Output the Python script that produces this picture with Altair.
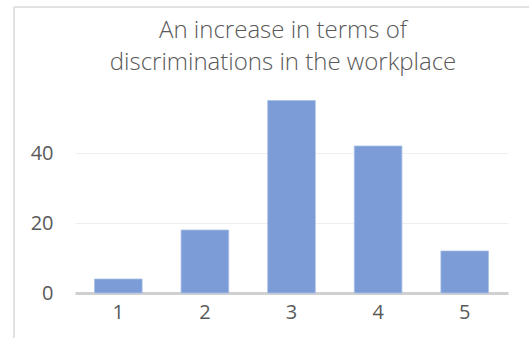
import altair as alt
import pandas as pd

categories = ["1", "2", "3", "4", "5"]
values = [4, 18, 55, 42, 12]
y_ticks = [0, 20, 40]
title_lines = ["An increase in terms of", "discriminations in the workplace"]

df = pd.DataFrame({"cat": categories, "val": values})
one = pd.DataFrame({"k": [0]})

FONT = "Open Sans"
GRAY = "#595959"

bars = alt.Chart(df).mark_bar(color="#7b9cd6", stroke="#a9bfe6", strokeWidth=0.8).encode(
    x=alt.X("cat:N", sort=categories, title=None,
            scale=alt.Scale(paddingInner=0.45, paddingOuter=0.225),
            axis=alt.Axis(labelAngle=0, labelFont=FONT, labelFontSize=20, labelColor=GRAY,
                          labelPadding=9, ticks=False, domainColor="#d0d0d0", domainWidth=3,
                          grid=False)),
    y=alt.Y("val:Q", title=None,
            scale=alt.Scale(domain=[0, 60], nice=False),
            axis=alt.Axis(values=y_ticks, labelFont=FONT, labelFontSize=20, labelColor=GRAY,
                          labelPadding=22, ticks=False, domain=False, gridColor="#efefef",
                          gridWidth=1)),
)

frame_left = alt.Chart(one).mark_rule(color="#d9d9d9", strokeWidth=1.5).encode(
    x=alt.value(-61), y=alt.value(-76), y2=alt.value(260))
frame_top = alt.Chart(one).mark_rule(color="#d9d9d9", strokeWidth=1.5).encode(
    x=alt.value(-61), x2=alt.value(460), y=alt.value(-76))

title = alt.Chart(one).mark_text(font=FONT, fontSize=24, fontWeight=300, color=GRAY,
                                 align="center", baseline="alphabetic", lineHeight=32).encode(
    x=alt.value(208), y=alt.value(-45), text=alt.value(title_lines))

chart = alt.layer(frame_left, frame_top, title, bars).properties(
    width=433, height=210,
    background="white",
    autosize=alt.AutoSizeParams(type="none"),
    padding={"left": 75, "top": 83, "right": 21, "bottom": 45},
).configure_view(strokeWidth=0)

chart.save("out.html", embed_options={"renderer": "svg", "actions": False})
